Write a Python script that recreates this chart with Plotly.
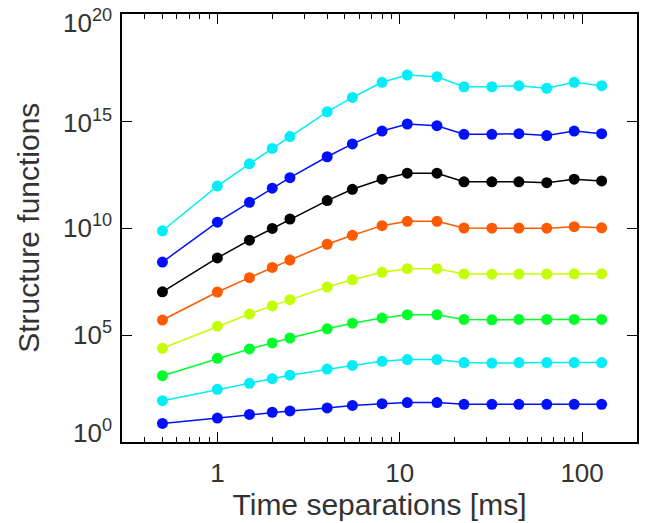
import plotly.graph_objects as go
import numpy as np

# Time separations [ms]
tau = [0.5, 1, 1.5, 2, 2.5, 4, 5.5, 8, 11, 16, 22.5, 32, 45, 64, 90.5, 128]

# log10 of structure functions, order 1 (bottom) to 8 (top)
log_s1 = [0.87, 1.12, 1.29, 1.39, 1.45, 1.59, 1.71, 1.79, 1.84, 1.84, 1.76, 1.76, 1.76, 1.76, 1.76, 1.76]
log_s2 = [1.93, 2.46, 2.74, 2.96, 3.12, 3.41, 3.58, 3.77, 3.85, 3.85, 3.71, 3.69, 3.71, 3.71, 3.71, 3.71]
log_s3 = [3.10, 3.91, 4.35, 4.63, 4.86, 5.29, 5.55, 5.79, 5.95, 5.95, 5.73, 5.71, 5.73, 5.73, 5.73, 5.73]
log_s4 = [4.38, 5.41, 5.98, 6.36, 6.65, 7.24, 7.58, 7.93, 8.10, 8.10, 7.85, 7.84, 7.85, 7.85, 7.86, 7.86]
log_s5 = [5.70, 7.01, 7.68, 8.16, 8.50, 9.24, 9.66, 10.11, 10.31, 10.31, 10.00, 9.99, 10.00, 9.99, 10.06, 10.01]
log_s6 = [7.02, 8.60, 9.43, 9.98, 10.42, 11.28, 11.81, 12.28, 12.56, 12.56, 12.16, 12.16, 12.16, 12.12, 12.28, 12.20]
log_s7 = [8.41, 10.27, 11.20, 11.86, 12.35, 13.33, 13.93, 14.53, 14.86, 14.78, 14.38, 14.38, 14.41, 14.32, 14.53, 14.41]
log_s8 = [9.87, 11.96, 13.00, 13.72, 14.27, 15.43, 16.10, 16.81, 17.15, 17.07, 16.60, 16.60, 16.65, 16.53, 16.81, 16.65]

series = [log_s1, log_s2, log_s3, log_s4, log_s5, log_s6, log_s7, log_s8]
colors = ["#0010ff", "#00eef8", "#00ff2a", "#c4ff00", "#ff5a00", "#000000", "#0010ff", "#00eef8"]

ytick_exp = [0, 5, 10, 15, 20]
ytick_labels = ["10<sup>0</sup>", "10<sup>5</sup>", "10<sup>10</sup>", "10<sup>15</sup>", "10<sup>20</sup>"]
xtick_vals = [1, 10, 100]
xtick_text = ["1", "10", "100"]
xminor_vals = [0.3, 0.4, 0.5, 0.6, 0.7, 0.8, 0.9,
               2, 3, 4, 5, 6, 7, 8, 9,
               20, 30, 40, 50, 60, 70, 80, 90, 200]

xrange_log = [float(np.log10(0.3)), float(np.log10(200))]

fig = go.Figure()
for vals, c in zip(series, colors):
    fig.add_trace(go.Scatter(
        x=tau, y=[10.0 ** v for v in vals], mode="lines+markers",
        line=dict(color=c, width=1.5),
        marker=dict(color=c, size=11),
        showlegend=False,
    ))

# invisible helper trace so the minor-tick axis is drawn
fig.add_trace(go.Scatter(x=[1], y=[1], xaxis="x2", mode="markers",
                         marker=dict(opacity=0), showlegend=False, hoverinfo="skip"))

font_family = "Liberation Sans"
text_color = "#333333"
fig.update_layout(
    width=645, height=523,
    margin=dict(l=122, r=6, t=14, b=81),
    paper_bgcolor="white", plot_bgcolor="white",
    font=dict(family=font_family, color=text_color, size=26),
    xaxis=dict(
        type="log", range=xrange_log,
        tickmode="array", tickvals=xtick_vals, ticktext=xtick_text,
        ticks="inside", ticklen=10, tickwidth=1.2, tickcolor="black",
        showline=True, linecolor="black", linewidth=1.5, mirror="ticks",
        showgrid=False, zeroline=False,
        tickfont=dict(size=26, family=font_family, color=text_color),
        ticklabelstandoff=7,
        title=dict(text="Time separations [ms]",
                   font=dict(size=30, family=font_family, color=text_color), standoff=2),
    ),
    xaxis2=dict(
        type="log", range=xrange_log, overlaying="x", side="bottom", anchor="y",
        tickmode="array", tickvals=xminor_vals, showticklabels=False,
        ticks="inside", ticklen=5, tickwidth=1, tickcolor="black",
        showline=True, linecolor="black", linewidth=1.5, mirror="ticks",
        showgrid=False, zeroline=False,
    ),
    yaxis=dict(
        type="log", range=[0, 20],
        tickmode="array", tickvals=[10.0 ** e for e in ytick_exp],
        ticktext=[""] * len(ytick_exp),
        ticks="inside", ticklen=10, tickwidth=1.2, tickcolor="black",
        showline=True, linecolor="black", linewidth=1.5, mirror="ticks",
        showgrid=False, zeroline=False,
    ),
)

# y tick labels (IDL-style placement: end labels kept inside the axis span)
yshifts = [11, 2, 2, 0, -7]
for e, lab, ys in zip(ytick_exp, ytick_labels, yshifts):
    fig.add_annotation(
        x=0, xref="paper", y=e, yref="y", text=lab, showarrow=False,
        xanchor="right", yanchor="middle", xshift=-8, yshift=ys,
        font=dict(size=26, family=font_family, color=text_color),
    )

fig.add_annotation(
    x=-0.183, xref="paper", y=0.5, yref="paper", text="Structure functions",
    showarrow=False, textangle=-90, xanchor="center", yanchor="middle",
    font=dict(size=30, family=font_family, color=text_color),
)

fig.write_html("out.html")
